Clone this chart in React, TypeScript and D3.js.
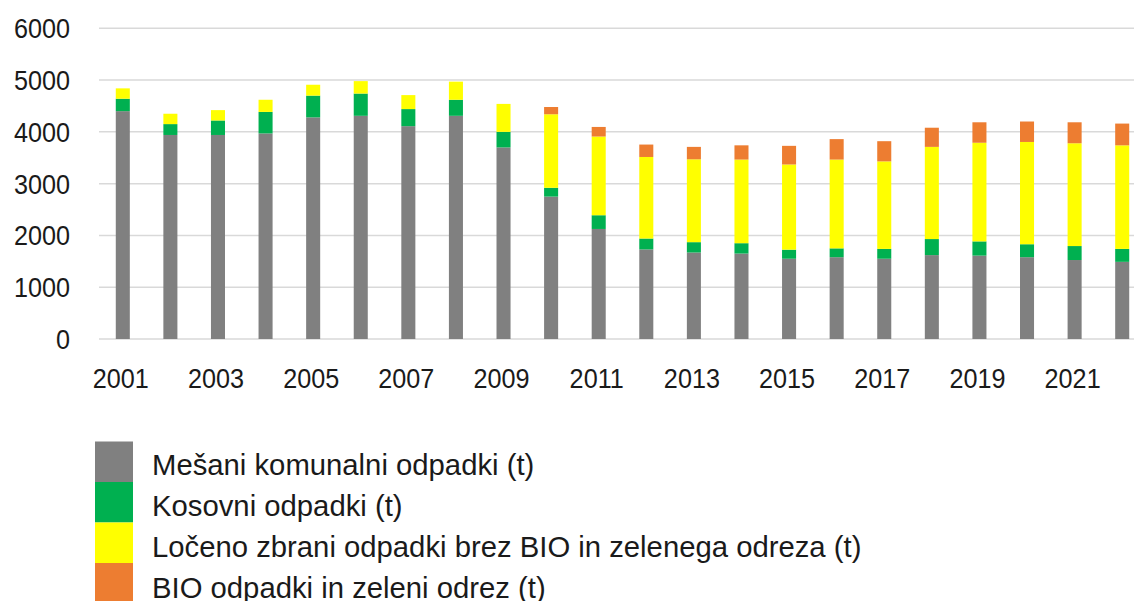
import React from "react";
import * as d3 from "d3";

const years = [2001, 2002, 2003, 2004, 2005, 2006, 2007, 2008, 2009, 2010, 2011, 2012, 2013, 2014, 2015, 2016, 2017, 2018, 2019, 2020, 2021, 2022];
const mixed = [4400, 3940, 3940, 3970, 4280, 4310, 4110, 4310, 3700, 2750, 2125, 1730, 1670, 1650, 1550, 1580, 1550, 1620, 1610, 1580, 1525, 1490];
const bulky = [240, 210, 280, 415, 420, 430, 330, 310, 300, 170, 265, 210, 200, 200, 175, 170, 190, 310, 275, 250, 270, 250];
const separate = [200, 200, 200, 235, 210, 240, 270, 350, 540, 1420, 1520, 1575, 1600, 1615, 1645, 1715, 1690, 1780, 1905, 1975, 1985, 2000];
const bio = [0, 0, 0, 0, 0, 0, 0, 0, 0, 140, 185, 240, 240, 275, 360, 395, 390, 370, 395, 395, 405, 420];

const yTicks = [0, 1000, 2000, 3000, 4000, 5000, 6000];
const xTickYears = [2001, 2003, 2005, 2007, 2009, 2011, 2013, 2015, 2017, 2019, 2021];

const seriesKeys = ["mixed", "bulky", "separate", "bio"];
const seriesLabels = [
  "Mešani komunalni odpadki (t)",
  "Kosovni odpadki (t)",
  "Ločeno zbrani odpadki brez BIO in zelenega odreza (t)",
  "BIO odpadki in zeleni odrez (t)",
];
const seriesColors = ["#808080", "#00b050", "#ffff00", "#ed7d31"];

const W = 1134;
const H = 601;
const FONT = "'Liberation Sans', Arial, sans-serif";

export default function App() {
  const rows = years.map((y, i) => ({
    year: y,
    mixed: mixed[i],
    bulky: bulky[i],
    separate: separate[i],
    bio: bio[i],
  }));
  const stack = d3.stack<any>().keys(seriesKeys);
  const stacked = stack(rows);

  const x = d3
    .scaleBand<number>()
    .domain(years)
    .range([99, 1146])
    .paddingInner(0.705)
    .paddingOuter(0.3525);
  const y = d3.scaleLinear().domain([0, 6000]).range([339, 28.3]);

  const T = (props: { x: number; y: number; anchor: string; fs: number; sx: number; children: any }) => (
    <text
      transform={`translate(${props.x},${props.y}) scale(${props.sx},1)`}
      textAnchor={props.anchor as any}
      fontFamily={FONT}
      fontSize={props.fs}
      fill="#1a1a1a"
    >
      {props.children}
    </text>
  );

  return (
    <svg
      width={W}
      height={H}
      style={{ position: "absolute", left: 0, top: 0, background: "#fff" }}
    >
      <rect x={0} y={0} width={W} height={H} fill="#fff" />
      {yTicks.map((t) => (
        <line
          key={t}
          x1={99}
          x2={W}
          y1={y(t)}
          y2={y(t)}
          stroke="#d9d9d9"
          strokeWidth={1.5}
        />
      ))}
      {yTicks.map((t) => (
        <T key={t} x={70} y={y(t) + 10} anchor="end" fs={28} sx={0.9}>
          {t}
        </T>
      ))}
      {stacked.map((s, si) =>
        s.map((d, i) => (
          <rect
            key={`${si}-${i}`}
            x={x(years[i])}
            width={x.bandwidth()}
            y={y(d[1])}
            height={Math.max(0, y(d[0]) - y(d[1]))}
            fill={seriesColors[si]}
          />
        ))
      )}
      {xTickYears.map((yr) => (
        <T key={yr} x={(x(yr) as number) + x.bandwidth() / 2 - 2} y={388} anchor="middle" fs={28} sx={0.9}>
          {yr}
        </T>
      ))}
      {seriesLabels.map((lab, i) => (
        <g key={lab}>
          <rect x={95} y={441.5 + i * 40.5} width={38} height={40.5} fill={seriesColors[i]} />
          <T x={152} y={475 + i * 41} anchor="start" fs={29} sx={1.01}>
            {lab}
          </T>
        </g>
      ))}
    </svg>
  );
}
